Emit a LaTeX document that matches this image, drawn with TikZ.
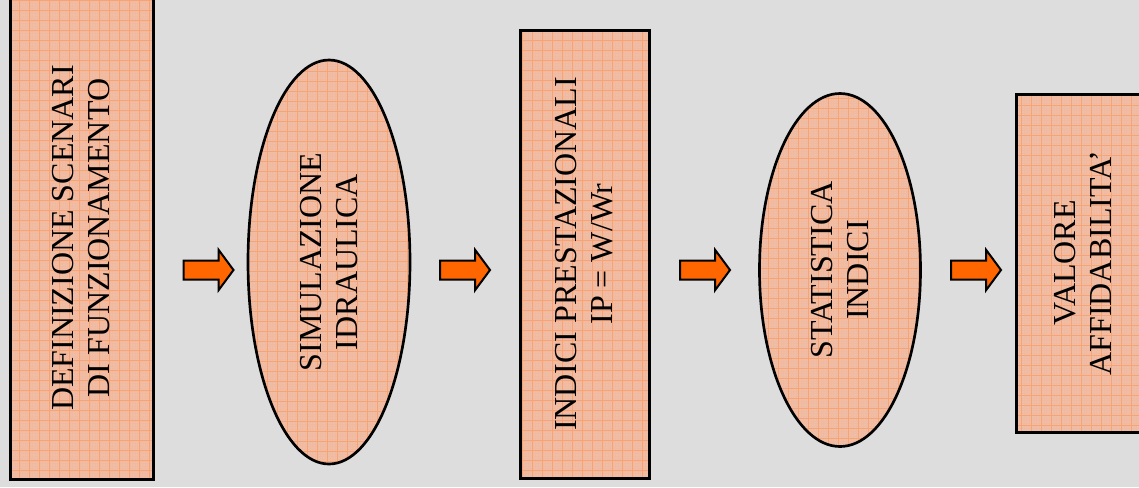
\documentclass[tikz,border=0pt]{standalone}
\usepackage{fontspec}
\setmainfont{Liberation Serif}
\usetikzlibrary{shapes.geometric,shapes.arrows}
\definecolor{bg}{RGB}{221,221,221}
\definecolor{salmon}{RGB}{239,190,166}
\definecolor{gridmaj}{RGB}{248,163,116}
\definecolor{gridmin}{RGB}{241,186,160}
\definecolor{arroworange}{RGB}{255,102,0}
\tikzset{
  gridfill/.style={fill=salmon, path picture={
      \draw[gridmin, line width=0.25pt] (path picture bounding box.south west) grid[step=1.875pt] (path picture bounding box.north east);
      \draw[gridmaj, line width=0.7pt] (path picture bounding box.south west) grid[step=7.5pt] (path picture bounding box.north east);}},
  txt/.style={rotate=90, align=center, font=\fontsize{24}{27}\selectfont, text=black},
  boxnode/.style={draw=black, line width=2.25pt, gridfill, rectangle, inner sep=0pt, txt},
  ovalnode/.style={draw=black, line width=2pt, gridfill, ellipse, inner sep=0pt, txt},
  blockarrow/.style={single arrow, draw=black, fill=arroworange, line width=1.5pt,
      minimum height=37.5pt, inner xsep=0pt, inner ysep=6.375pt, single arrow head extend=7.875pt,
      single arrow tip angle=107}
}
\begin{document}
\begin{tikzpicture}[x=0.75pt,y=-0.75pt]
\fill[bg] (0,0) rectangle (1139,487);
\useasboundingbox (0,0) rectangle (1139,487);
% rotated nodes: minimum width = vertical extent, minimum height = horizontal extent
\node[boxnode, minimum width=361.5pt, minimum height=107.25pt] (b1) at (81.5,238) {DEFINIZIONE SCENARI\\DI FUNZIONAMENTO};
\node[ovalnode, minimum width=303pt, minimum height=121.5pt] (e1) at (329,262) {SIMULAZIONE\\IDRAULICA};
\node[boxnode, minimum width=336pt, minimum height=96.75pt] (b3) at (584.5,254) {INDICI PRESTAZIONALI\\IP = W/Wr};
\node[ovalnode, minimum width=264.75pt, minimum height=120.75pt] (e2) at (840,270) {STATISTICA\\INDICI};
\node[boxnode, minimum width=253.5pt, minimum height=100.5pt] (b5) at (1083,263) {VALORE\\AFFIDABILITA’};
% block arrows
\node[blockarrow] (a1) at (205,270) {};
\node[blockarrow] (a2) at (461.5,270) {};
\node[blockarrow] (a3) at (701.5,270) {};
\node[blockarrow] (a4) at (972.5,270) {};
\end{tikzpicture}
\end{document}
